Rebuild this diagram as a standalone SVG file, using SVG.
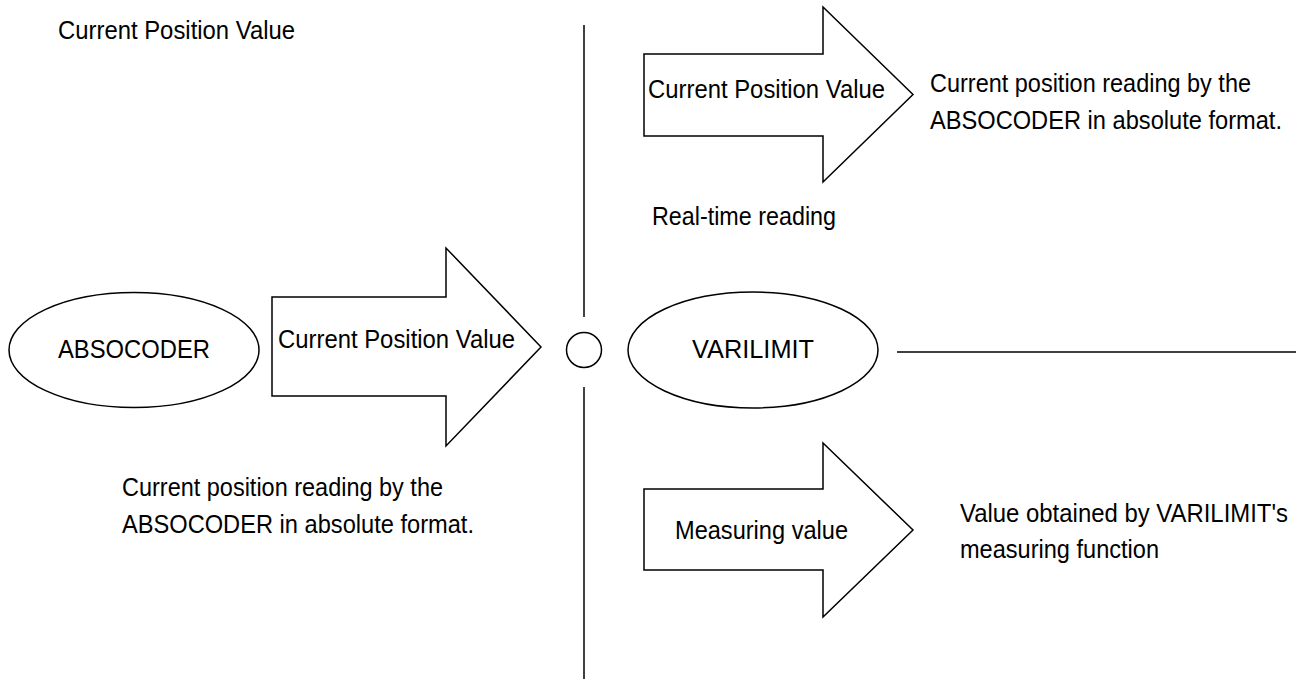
<svg xmlns="http://www.w3.org/2000/svg" width="1311" height="679" viewBox="0 0 1311 679">
<style>
text{font-family:"Liberation Sans",Arial,sans-serif;font-size:25px;fill:#000}
.c{text-anchor:middle}
.s{fill:#fff;stroke:#000;stroke-width:1.5}
.l{stroke:#000;stroke-width:1.5;fill:none}
</style>
<rect width="1311" height="679" fill="#fff"/>
<g id="connectors">
<line class="l" x1="584" y1="25" x2="584" y2="317"/>
<line class="l" x1="584" y1="387" x2="584" y2="679"/>
<line class="l" x1="897" y1="352" x2="1296" y2="352"/>
</g>
<g id="label-top"><text x="58" y="39" textLength="237" lengthAdjust="spacingAndGlyphs">Current Position Value</text></g>
<g id="absocoder"><ellipse class="s" cx="134" cy="350" rx="125" ry="57.5"/><text class="c" x="134" y="358" textLength="152" lengthAdjust="spacingAndGlyphs">ABSOCODER</text></g>
<g id="arrow-left"><path class="s" d="M272,297 H446 V248 L541,347 L446,446 V396 H272 Z"/><text x="278" y="348" textLength="237" lengthAdjust="spacingAndGlyphs">Current Position Value</text></g>
<g id="junction"><circle class="s" cx="584" cy="350" r="17.5"/></g>
<g id="varilimit"><ellipse class="s" cx="753" cy="350" rx="125" ry="58"/><text class="c" x="753" y="358" textLength="122" lengthAdjust="spacingAndGlyphs">VARILIMIT</text></g>
<g id="arrow-top"><path class="s" d="M644,54 H823 V7 L913,94.5 L823,182 V136 H644 Z"/><text x="648" y="98" textLength="237" lengthAdjust="spacingAndGlyphs">Current Position Value</text></g>
<g id="desc-top"><text x="930" y="92" textLength="321" lengthAdjust="spacingAndGlyphs">Current position reading by the</text><text x="930" y="129" textLength="352" lengthAdjust="spacingAndGlyphs">ABSOCODER in absolute format.</text></g>
<g id="label-realtime"><text x="652" y="225" textLength="184" lengthAdjust="spacingAndGlyphs">Real-time reading</text></g>
<g id="desc-left"><text x="122" y="496" textLength="321" lengthAdjust="spacingAndGlyphs">Current position reading by the</text><text x="122" y="533" textLength="352" lengthAdjust="spacingAndGlyphs">ABSOCODER in absolute format.</text></g>
<g id="arrow-bottom"><path class="s" d="M644,489 H823 V443 L913,530 L823,617 V570 H644 Z"/><text x="675" y="539" textLength="173" lengthAdjust="spacingAndGlyphs">Measuring value</text></g>
<g id="desc-bottom"><text x="960" y="522" textLength="328" lengthAdjust="spacingAndGlyphs">Value obtained by VARILIMIT's</text><text x="960" y="558" textLength="199" lengthAdjust="spacingAndGlyphs">measuring function</text></g>
</svg>
